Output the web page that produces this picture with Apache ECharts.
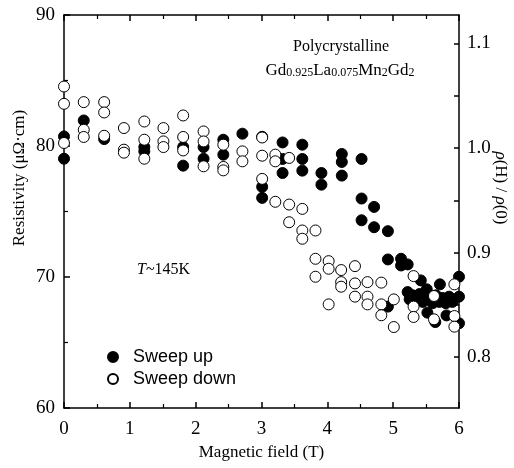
<!DOCTYPE html>
<html>
<head>
<meta charset="utf-8">
<script src="https://cdn.jsdelivr.net/npm/echarts@6/dist/echarts.min.js"></script>
<style>html,body{margin:0;padding:0;background:#fff;}#c{width:514px;height:468px;}</style>
</head>
<body>
<div id="c"></div>
<script>
// ---- data ----
const sweepUpField = [0,0,0.30,0.61,1.22,1.22,1.81,1.81,2.12,2.12,2.42,2.42,2.71,3.01,3.01,3.01,3.32,3.32,3.32,3.62,3.62,3.62,3.91,3.91,4.22,4.22,4.22,4.52,4.52,4.52,4.71,4.71,4.92,4.92,4.92,5.12,5.12,5.22,5.22,5.42,5.51,5.71,6.0,
  5.30,5.35,5.40,5.45,5.55,5.60,5.65,5.70,5.75,5.80,5.85,5.90,6.0,5.52,5.64,5.81,6.0,5.25];
const sweepUpRes = [80.73,79.03,81.95,80.53,79.92,79.59,79.92,78.5,79.92,79.03,80.48,79.34,80.94,80.7,76.88,76.04,80.27,79.01,77.94,80.1,79.01,78.12,77.94,77.05,79.39,78.78,77.74,79.01,75.99,74.33,75.35,73.8,73.5,71.34,67.74,71.39,70.88,70.96,68.85,69.74,69.06,69.44,70.02,
  68.6,68.2,68.7,68.1,68.5,68.0,68.6,68.1,68.4,68.0,68.5,68.1,68.5,67.28,66.56,67.07,66.47,68.3];
const sweepDownField = [0,0,0,0.30,0.30,0.30,0.61,0.61,0.61,0.91,0.91,0.91,1.22,1.22,1.22,1.51,1.51,1.51,1.81,1.81,1.81,2.12,2.12,2.12,2.42,2.42,2.42,2.71,2.71,3.01,3.01,3.01,3.21,3.21,3.21,3.42,3.42,3.42,3.62,3.62,3.62,3.82,3.82,3.82,4.02,4.02,4.02,4.21,4.21,4.21,4.42,4.42,4.42,4.61,4.61,4.61,4.82,4.82,4.82,5.01,5.01,5.31,5.31,5.31,5.62,5.62,5.93,5.93,5.93];
const sweepDownRes = [84.54,83.22,80.23,83.35,81.24,80.69,83.35,82.56,80.78,81.37,79.72,79.49,81.87,80.48,79.03,81.37,80.35,79.92,82.33,80.69,79.66,81.11,80.35,78.45,80.1,78.4,78.14,79.59,78.83,80.65,79.26,77.49,79.34,78.83,75.74,79.09,75.53,74.18,75.2,73.55,72.92,73.55,71.39,70.02,71.21,70.63,67.91,70.53,69.61,69.26,70.83,69.51,68.5,69.61,68.5,67.91,69.57,67.91,67.08,68.29,66.18,70.07,67.74,66.95,68.55,66.77,69.44,67.02,66.21];
const xTicks = [0,1,2,3,4,5,6];
const leftTicks = [60,70,80,90];
const rightTicks = [0.8,0.9,1.0,1.1];
const rightMinorTicks = [0.8,0.85,0.9,0.95,1.0,1.05,1.1];
const rho0 = 79.85; // resistivity at zero field used for the ratio axis
const seriesNames = ['Sweep up','Sweep down'];

const zip = (a,b)=>a.map((v,i)=>[v,b[i]]);
const SERIF = '"Liberation Serif","DejaVu Serif",serif';
const SANS = '"Liberation Sans",Arial,sans-serif';

const chart = echarts.init(document.getElementById('c'), null, {renderer:'canvas'});
// fresh objects for every axis (shared option objects get mutated)
const mkLine = () => ({show:true, onZero:false, lineStyle:{color:'#000', width:1.5}});
const mkTick = (extra) => Object.assign({show:true, inside:true, length:6, lineStyle:{color:'#000', width:1.5}}, extra || {});
const mkMinor = () => ({show:true, splitNumber:2, length:4, lineStyle:{color:'#000', width:1.2}});
chart.setOption({
  animation:false,
  backgroundColor:'#fff',
  grid:{left:64, right:55, top:15, bottom:60},
  legend:{
    orient:'vertical', left:102, top:343, itemWidth:10, itemHeight:10, itemGap:4,
    data:seriesNames,
    textStyle:{fontFamily:SANS, fontSize:18, color:'#000', padding:[0,0,0,10]}
  },
  xAxis:[{
    type:'value', min:0, max:6, interval:1, position:'bottom',
    axisLine:mkLine(), splitLine:{show:false},
    axisTick:mkTick(), minorTick:mkMinor(),
    axisLabel:{customValues:xTicks, fontFamily:SERIF, fontSize:19, color:'#000', margin:12},
    name:'Magnetic field (T)', nameLocation:'middle', nameGap:34,
    nameTextStyle:{fontFamily:SERIF, fontSize:17, color:'#000'}
  },{
    type:'value', min:0, max:6, interval:1, position:'top',
    axisLine:mkLine(), splitLine:{show:false},
    axisTick:mkTick(), minorTick:mkMinor(),
    axisLabel:{show:false}
  }],
  yAxis:[{
    type:'value', min:60, max:90, interval:10, position:'left',
    axisLine:mkLine(), splitLine:{show:false},
    axisTick:mkTick(), minorTick:mkMinor(),
    axisLabel:{customValues:leftTicks, fontFamily:SERIF, fontSize:19, color:'#000', margin:9}
  },{
    type:'value', min:60/rho0, max:90/rho0, position:'right',
    axisLine:mkLine(), splitLine:{show:false},
    axisTick:mkTick({length:5, customValues:rightMinorTicks}),
    axisLabel:{fontFamily:SERIF, fontSize:19, color:'#000', margin:8, customValues:rightTicks,
      formatter:v=>v.toFixed(1)}
  }],
  graphic:[
    {type:'text', x:20, y:178, rotation:Math.PI/2,
     style:{text:'Resistivity (μΩ·cm)', fontFamily:SERIF, fontSize:17, fill:'#000', align:'center', verticalAlign:'middle'}},
    {type:'text', x:500, y:188, rotation:-Math.PI/2,
     style:{text:'{i|ρ}{n|(H) / }{i|ρ}{n|(0)}', align:'center', verticalAlign:'middle',
       rich:{i:{fontFamily:SERIF, fontSize:17, fontStyle:'italic', fill:'#000'}, n:{fontFamily:SERIF, fontSize:17, fill:'#000'}}}},
    {type:'text', x:341, y:47,
     style:{text:'Polycrystalline', fontFamily:SERIF, fontSize:16, fill:'#000', align:'center', verticalAlign:'middle'}},
    {type:'text', x:340, y:69,
     style:{text:'{n|Gd}{s|0.925}{n|La}{s|0.075}{n|Mn}{s|2}{n|Gd}{s|2}', align:'center', verticalAlign:'middle',
       rich:{n:{fontFamily:SERIF, fontSize:17, lineHeight:20, verticalAlign:'bottom', fill:'#000'},
             s:{fontFamily:SERIF, fontSize:12, lineHeight:12, verticalAlign:'bottom', fill:'#000'}}}},
    {type:'text', x:137, y:270,
     style:{text:'{i|T}{n|~145K}', align:'left', verticalAlign:'middle',
       rich:{i:{fontFamily:SERIF, fontSize:16, fontStyle:'italic', fill:'#000'}, n:{fontFamily:SERIF, fontSize:16, fill:'#000'}}}}
  ],
  series:[{
    name:seriesNames[0], type:'scatter', xAxisIndex:0, yAxisIndex:0,
    symbol:'circle', symbolSize:11,
    itemStyle:{color:'#000', borderColor:'#000', borderWidth:1, opacity:1},
    data:zip(sweepUpField, sweepUpRes), z:2
  },{
    name:seriesNames[1], type:'scatter', xAxisIndex:0, yAxisIndex:0,
    symbol:'circle', symbolSize:11,
    itemStyle:{color:'#fff', borderColor:'#000', borderWidth:1, opacity:1},
    data:zip(sweepDownField, sweepDownRes), z:3
  }]
});
</script>
</body>
</html>
